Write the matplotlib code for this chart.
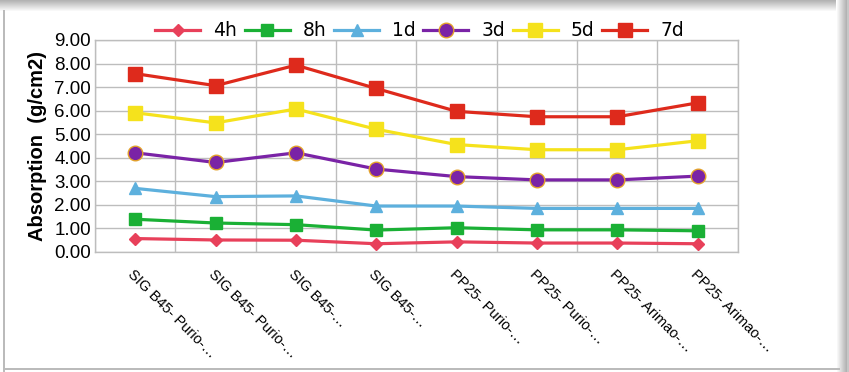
"""Water absorption over time for the sealed stone samples."""
import numpy as np
import matplotlib

matplotlib.use("Agg")
import matplotlib.pyplot as plt  # noqa: E402

samples = [
    "SIG B45- Purio-…", "SIG B45- Purio-…", "SIG B45-…", "SIG B45-…",
    "PP25- Purio-…", "PP25- Purio-…", "PP25- Arimao-…", "PP25- Arimao-…",
]
y_ticks = [0, 1, 2, 3, 4, 5, 6, 7, 8, 9]

abs_4h = [0.57, 0.51, 0.50, 0.35, 0.43, 0.38, 0.38, 0.35]
abs_8h = [1.39, 1.23, 1.16, 0.93, 1.03, 0.94, 0.94, 0.90]
abs_1d = [2.70, 2.35, 2.38, 1.95, 1.95, 1.85, 1.85, 1.85]
abs_3d = [4.21, 3.80, 4.21, 3.52, 3.20, 3.06, 3.06, 3.22]
abs_5d = [5.91, 5.48, 6.07, 5.21, 4.56, 4.34, 4.34, 4.72]
abs_7d = [7.57, 7.06, 7.93, 6.94, 5.97, 5.74, 5.74, 6.33]

series = [
    ("4h", abs_4h, "#E8405A", "D", 6.5, "#E8405A"),
    ("8h", abs_8h, "#1AB035", "s", 8.5, "#1AB035"),
    ("1d", abs_1d, "#5DB0DD", "^", 9, "#5DB0DD"),
    ("3d", abs_3d, "#7A23A6", "o", 10.5, "#E3A12A"),
    ("5d", abs_5d, "#F5E21C", "s", 10, "#F5E21C"),
    ("7d", abs_7d, "#DE2A1C", "s", 9.5, "#DE2A1C"),
]

W, H = 849, 372
fig = plt.figure(figsize=(W / 100, H / 100), dpi=100)

# chart frame: thin grey rule left/bottom, soft shadow along top and right
bg = fig.add_axes([0, 0, 1, 1], zorder=-5)
bg.set_xlim(0, W)
bg.set_ylim(H, 0)
bg.axis("off")
for k in range(11):
    g = 0.70 + 0.30 * k / 11
    bg.axhspan(k, k + 1, xmin=0, xmax=(W - 11 + k * 0.6) / W,
               color=(g, g, g), lw=0)
for k in range(13):
    g = 1.0 - 0.30 * min(k, 10) / 10 + (0.08 if k > 10 else 0)
    bg.axvspan(836 + k, 837 + k, ymin=0, ymax=1, color=(g, g, g), lw=0)
bg.axvspan(3, 5, ymin=0.0, ymax=(H - 10) / H, color="#BBBBBB", lw=0)
bg.axhspan(368, 370, xmin=3 / W, xmax=840 / W, color="#BBBBBB", lw=0)

ax = fig.add_axes([0.112, 0.3226, 0.757, 0.57])
ax.set_zorder(1)
ax.patch.set_alpha(0)
x = np.arange(len(samples))
for name, vals, color, marker, ms, edge in series:
    ax.plot(x, vals, color=color, lw=2.3, marker=marker, ms=ms,
            markerfacecolor=color, markeredgecolor=edge, markeredgewidth=1.0,
            label=name, zorder=3)

ax.set_xlim(-0.5, len(samples) - 0.5)
ax.set_ylim(0, 9)
ax.set_yticks(y_ticks)
ax.set_yticklabels([f"{v:.2f}" for v in y_ticks], fontsize=13.5,
                   family="Liberation Sans")
ax.set_xticks(x)
ax.set_xticklabels(samples, rotation=-45, ha="left", va="top",
                   rotation_mode="anchor", fontsize=10.5,
                   family="Liberation Sans")
ax.set_xticks(np.arange(len(samples) + 1) - 0.5, minor=True)
ax.tick_params(axis="both", which="both", length=0)
ax.tick_params(axis="x", pad=11)
ax.tick_params(axis="y", pad=3)
ax.grid(True, which="minor", axis="x", color="#BDBDBD", lw=1.0)
ax.grid(True, which="major", axis="y", color="#BDBDBD", lw=1.0)
ax.grid(False, which="major", axis="x")
for s in ax.spines.values():
    s.set_color("#BDBDBD")
    s.set_linewidth(1.0)

ax.set_ylabel("Absorption  (g/cm2)", fontsize=14.5, fontweight="bold",
              family="Liberation Sans", labelpad=5)

ax.legend(loc="lower center", bbox_to_anchor=(0.505, 0.955), ncol=6,
          frameon=False, fontsize=13.5, handlelength=2.4, handletextpad=0.7,
          columnspacing=0.4, borderaxespad=0.1)

fig.savefig("out.png", dpi=100, facecolor="white")
